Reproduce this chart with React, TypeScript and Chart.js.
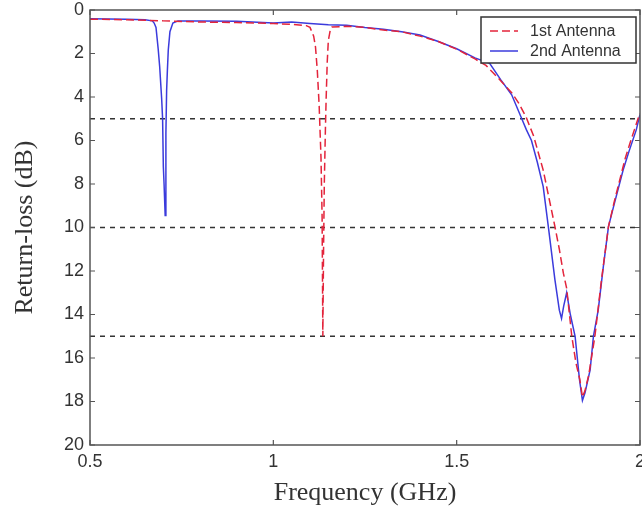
import React, { useEffect, useRef } from "react";
import { Chart, registerables } from "chart.js";

Chart.register(...registerables);

// ---------- data ----------
const seriesLabels = ["1st Antenna", "2nd Antenna"];

const freq1 = [
  0.5, 0.6, 0.7, 0.8, 0.9, 1.0, 1.05, 1.09, 1.1, 1.11, 1.115, 1.12, 1.125, 1.13, 1.133, 1.135,
  1.137, 1.139, 1.142, 1.144, 1.147, 1.15, 1.155, 1.16, 1.2, 1.25, 1.3, 1.35, 1.4, 1.45, 1.5,
  1.55, 1.58, 1.6, 1.62, 1.65, 1.67, 1.69, 1.71, 1.736, 1.75, 1.768, 1.78, 1.791, 1.8, 1.814,
  1.825, 1.836, 1.843, 1.85, 1.86, 1.877, 1.895, 1.914, 1.93, 1.945, 1.96, 1.975, 1.995, 2.0,
];
const loss1 = [
  0.42, 0.45, 0.5, 0.55, 0.58, 0.62, 0.66, 0.72, 0.8, 1.2, 1.7, 2.8, 4.4, 6.8, 9.5, 15.0,
  11.0, 8.0, 5.5, 4.1, 2.4, 1.4, 0.95, 0.78, 0.75, 0.8, 0.92, 1.0, 1.2, 1.45, 1.8,
  2.25, 2.55, 2.9, 3.25, 3.8, 4.3, 4.95, 5.8, 7.36, 8.5, 9.96, 11.0, 12.1, 12.8, 15.0,
  16.2, 17.0, 17.8, 17.5, 16.8, 15.0, 12.4, 9.96, 8.8, 7.8, 6.8, 6.0, 4.98, 4.75,
];

const freq2 = [
  0.5, 0.6, 0.65, 0.67, 0.675, 0.68, 0.686, 0.69, 0.6955, 0.698, 0.7, 0.702, 0.705, 0.707,
  0.709, 0.711, 0.7135, 0.718, 0.726, 0.74, 0.8, 0.9, 1.0, 1.05, 1.1, 1.15, 1.2, 1.25, 1.3,
  1.35, 1.4, 1.45, 1.5, 1.55, 1.59, 1.62, 1.65, 1.677, 1.69, 1.704, 1.72, 1.736, 1.75, 1.768,
  1.78, 1.786, 1.792, 1.8, 1.81, 1.823, 1.835, 1.843, 1.85, 1.864, 1.873, 1.886, 1.9, 1.914,
  1.93, 1.954, 1.97, 1.99, 2.0,
];
const loss2 = [
  0.4, 0.43, 0.45, 0.5, 0.6, 0.8, 1.8, 2.6, 4.1, 5.0, 7.2, 8.0, 9.45, 5.65,
  3.68, 2.8, 1.84, 1.0, 0.6, 0.5, 0.5, 0.52, 0.6, 0.55, 0.62, 0.68, 0.7, 0.8, 0.88,
  1.0, 1.15, 1.45, 1.78, 2.2, 2.45, 3.2, 3.9, 4.98, 5.5, 6.0, 7.0, 8.12, 9.96, 12.41,
  13.8, 14.18, 13.6, 13.0, 14.0, 15.0, 17.0, 17.95, 17.6, 16.55, 15.0, 13.8, 11.8, 9.96,
  8.9, 7.36, 6.5, 5.5, 4.8,
];

const refLevels = [5, 10, 15];
const xRange = [0.5, 2];
const yRange = [0, 20];

// ---------- helpers ----------
const toPoints = (xs: number[], ys: number[]) => xs.map((x, i) => ({ x, y: ys[i] }));

const framePlugin = {
  id: "frame",
  afterDatasetsDraw(chart: any) {
    const { ctx, chartArea, scales } = chart;
    const { left, right, top, bottom } = chartArea;
    ctx.save();
    ctx.strokeStyle = "#555";
    ctx.lineWidth = 1.5;
    ctx.strokeRect(left, top, right - left, bottom - top);
    ctx.lineWidth = 1.2;
    const len = 5;
    ctx.beginPath();
    scales.x.ticks.forEach((t: any) => {
      const px = scales.x.getPixelForValue(t.value);
      ctx.moveTo(px, bottom);
      ctx.lineTo(px, bottom - len);
      ctx.moveTo(px, top);
      ctx.lineTo(px, top + len);
    });
    scales.y.ticks.forEach((t: any) => {
      const py = scales.y.getPixelForValue(t.value);
      ctx.moveTo(left, py);
      ctx.lineTo(left + len, py);
      ctx.moveTo(right, py);
      ctx.lineTo(right - len, py);
    });
    ctx.stroke();
    ctx.restore();
  },
};

const boxLegendPlugin = {
  id: "boxLegend",
  afterDraw(chart: any) {
    const { ctx, chartArea } = chart;
    const items = chart.data.datasets.filter((d: any) => seriesLabels.includes(d.label));
    const w = 155;
    const h = 46;
    const x0 = chartArea.right - 4 - w;
    const y0 = chartArea.top + 7;
    ctx.save();
    ctx.fillStyle = "#fff";
    ctx.fillRect(x0, y0, w, h);
    ctx.strokeStyle = "#333";
    ctx.lineWidth = 1.5;
    ctx.strokeRect(x0, y0, w, h);
    ctx.font = "16px 'Liberation Sans', Arial, sans-serif";
    ctx.textBaseline = "middle";
    ctx.textAlign = "left";
    items.forEach((d: any, i: number) => {
      const cy = y0 + 14 + i * 20;
      ctx.beginPath();
      ctx.strokeStyle = d.borderColor;
      ctx.lineWidth = d.borderWidth;
      ctx.setLineDash(d.borderDash || []);
      ctx.moveTo(x0 + 9, cy);
      ctx.lineTo(x0 + 37, cy);
      ctx.stroke();
      ctx.setLineDash([]);
      ctx.fillStyle = "#333";
      ctx.fillText(d.label, x0 + 49, cy + 1);
    });
    ctx.restore();
  },
};

export default function App() {
  const canvasRef = useRef<HTMLCanvasElement | null>(null);

  useEffect(() => {
    if (!canvasRef.current) return;
    const refSets = refLevels.map((lv) => ({
      label: "ref" + lv,
      data: [
        { x: xRange[0], y: lv },
        { x: xRange[1], y: lv },
      ],
      borderColor: "#333",
      borderWidth: 1.5,
      borderDash: [5, 5],
      pointRadius: 0,
      fill: false,
    }));
    const chart = new Chart(canvasRef.current, {
      type: "line",
      data: {
        datasets: [
          {
            label: seriesLabels[0],
            data: toPoints(freq1, loss1),
            borderColor: "#e3243b",
            borderWidth: 1.5,
            borderDash: [8, 4],
            pointRadius: 0,
            tension: 0,
            fill: false,
          },
          {
            label: seriesLabels[1],
            data: toPoints(freq2, loss2),
            borderColor: "#3b3bdc",
            borderWidth: 1.5,
            pointRadius: 0,
            tension: 0,
            fill: false,
          },
          ...refSets,
        ],
      },
      options: {
        animation: false,
        responsive: true,
        maintainAspectRatio: false,
        layout: { padding: { top: 10, right: 40, left: 0, bottom: 0 } },
        plugins: {
          legend: { display: false },
          tooltip: { enabled: false },
        },
        scales: {
          x: {
            type: "linear",
            min: xRange[0],
            max: xRange[1],
            grid: { display: false, drawTicks: false },
            border: { display: false },
            ticks: {
              stepSize: 0.5,
              padding: 6,
              color: "#333",
              font: { family: "'Liberation Sans', Arial, sans-serif", size: 18 },
              callback: (v: any) => String(v),
            },
            title: {
              display: true,
              text: "Frequency (GHz)",
              color: "#333",
              font: { family: "'Liberation Serif', 'Times New Roman', serif", size: 26 },
              padding: { top: 0, bottom: 3 },
            },
            afterFit: (s: any) => {
              s.height = 67;
              s.paddingLeft = 0;
              s.paddingRight = 0;
            },
          },
          y: {
            type: "linear",
            reverse: true,
            min: yRange[0],
            max: yRange[1],
            grid: { display: false, drawTicks: false },
            border: { display: false },
            ticks: {
              stepSize: 2,
              padding: 6,
              color: "#333",
              font: { family: "'Liberation Sans', Arial, sans-serif", size: 18 },
            },
            title: {
              display: true,
              text: "Return-loss (dB)",
              color: "#333",
              font: { family: "'Liberation Serif', 'Times New Roman', serif", size: 26 },
              padding: { top: 10, bottom: 0 },
            },
            afterFit: (s: any) => {
              s.width = 90;
              s.paddingTop = 0;
              s.paddingBottom = 0;
            },
          },
        },
      },
      plugins: [framePlugin, boxLegendPlugin],
    });
    return () => chart.destroy();
  }, []);

  return (
    <div
      style={{
        position: "absolute",
        left: 0,
        top: 0,
        width: 642,
        height: 512,
        overflow: "hidden",
        background: "#fff",
      }}
    >
      <div style={{ position: "relative", width: 680, height: 512 }}>
        <canvas ref={canvasRef} />
      </div>
    </div>
  );
}
